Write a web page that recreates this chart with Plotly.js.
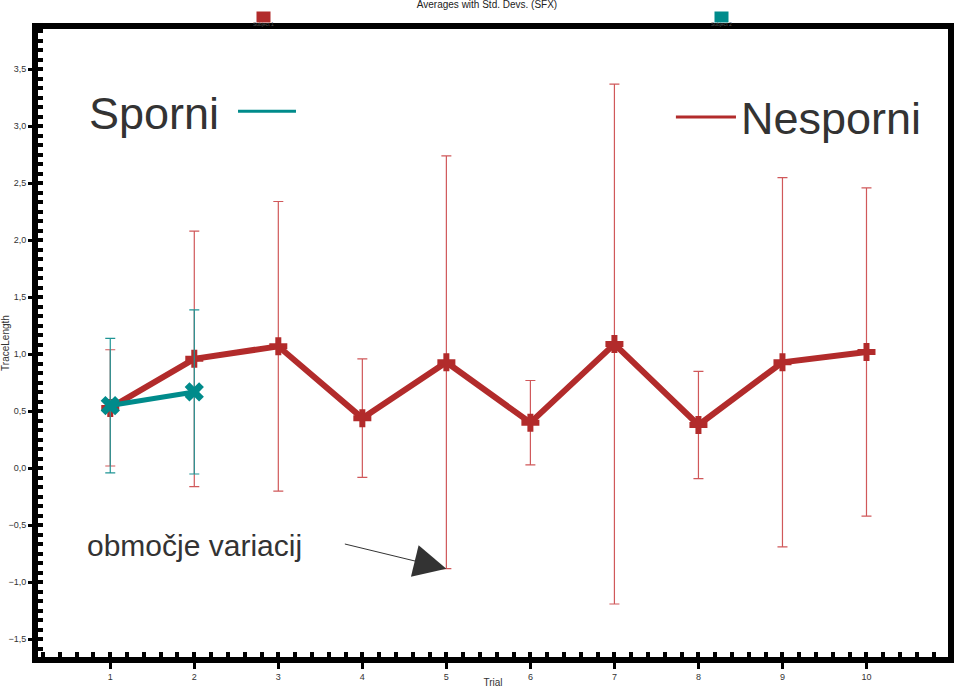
<!DOCTYPE html>
<html>
<head>
<meta charset="utf-8">
<script src="https://cdn.plot.ly/plotly-3.0.1.min.js"></script>
<style>html,body{margin:0;padding:0;background:#fff;}#chart{width:974px;height:688px;}</style>
</head>
<body>
<div id="chart"></div>
<script>
// ---- data ----
const trials = [1, 2, 3, 4, 5, 6, 7, 8, 9, 10];
const nespMean = [0.53, 0.96, 1.07, 0.44, 0.93, 0.40, 1.09, 0.38, 0.93, 1.02];
const nespSD   = [0.51, 1.12, 1.27, 0.52, 1.81, 0.37, 2.28, 0.47, 1.62, 1.44];
const sporTrials = [1, 2];
const sporMean = [0.55, 0.67];
const sporSD   = [0.59, 0.72];
const seriesNames = ['Nesporni', 'Sporni'];
const legendNames = ['Subject 1', 'Subject 2'];
const chartTitle = 'Averages with Std. Devs. (SFX)';
const arrowLabel = 'območje variacij';
const arrowTarget = {x: 5, y: nespMean[4] - nespSD[4]};

const RED = '#b22b2b';
const TEAL = '#008b8b';
const FONT = 'Liberation Sans, Arial, sans-serif';

const traces = [
  {
    x: trials, y: nespMean, name: seriesNames[0], type: 'scatter', mode: 'lines+markers',
    line: {color: RED, width: 6},
    marker: {symbol: 'cross', size: 15, color: RED},
    error_y: {type: 'data', array: nespSD, visible: true, color: '#d0585a', thickness: 1.2, width: 5}
  },
  {
    x: sporTrials, y: sporMean, name: seriesNames[1], type: 'scatter', mode: 'lines+markers',
    line: {color: TEAL, width: 5},
    marker: {symbol: 'x', size: 17, color: TEAL},
    error_y: {type: 'data', array: sporSD, visible: true, color: '#1f9595', thickness: 1.2, width: 5}
  }
];

const layout = {
  width: 974, height: 688,
  margin: {l: 38, r: 26, t: 29, b: 31},
  paper_bgcolor: '#fff', plot_bgcolor: '#fff',
  showlegend: false,
  separators: ',.',
  font: {family: FONT, color: '#333'},
  title: {text: chartTitle, x: 0.5, xanchor: 'center', yref: 'container', y: 0.993, yanchor: 'middle',
          font: {size: 10, color: '#222', family: FONT}},
  xaxis: {
    range: [0.14, 10.97], tick0: 0, dtick: 1, tickformat: 'd',
    showgrid: false, zeroline: false,
    showline: true, linewidth: 6, linecolor: '#000', mirror: true,
    ticks: 'outside', ticklen: 6, tickwidth: 3, tickcolor: '#000',
    tickfont: {size: 9, color: '#333'},
    minor: {ticks: 'inside', tick0: 0, dtick: 0.2, ticklen: 5, tickwidth: 4, tickcolor: '#000', showgrid: false},
    title: {text: 'Trial', font: {size: 10, color: '#333'}, standoff: 6}
  },
  yaxis: {
    range: [-1.655, 3.853], tick0: 0, dtick: 0.5, tickformat: '.1f',
    showgrid: false, zeroline: false,
    showline: true, linewidth: 6, linecolor: '#000', mirror: true,
    ticks: 'outside', ticklen: 4, tickwidth: 3, tickcolor: '#000',
    tickfont: {size: 9, color: '#333'},
    minor: {ticks: 'inside', tick0: 0, dtick: 0.5 / 6, ticklen: 5, tickwidth: 4, tickcolor: '#000', showgrid: false},
    title: {text: 'TraceLength', font: {size: 10, color: '#333'}, standoff: 4}
  },
  shapes: [
    {type: 'line', xref: 'paper', yref: 'paper', x0: 0.2198, x1: 0.2835, y0: 0.869, y1: 0.869,
     line: {color: TEAL, width: 3}},
    {type: 'line', xref: 'paper', yref: 'paper', x0: 0.701, x1: 0.767, y0: 0.860, y1: 0.860,
     line: {color: RED, width: 3}}
  ],
  annotations: [
    {text: seriesNames[1], xref: 'paper', yref: 'paper', x: 0.054, y: 0.866, xanchor: 'left', yanchor: 'middle',
     showarrow: false, font: {size: 45, color: '#333', family: FONT}},
    {text: seriesNames[0], xref: 'paper', yref: 'paper', x: 0.770, y: 0.857, xanchor: 'left', yanchor: 'middle',
     showarrow: false, font: {size: 45, color: '#333', family: FONT}},
    {text: arrowLabel, xref: 'paper', yref: 'paper', x: 0.052, y: 0.178, xanchor: 'left', yanchor: 'middle',
     showarrow: false, font: {size: 30, color: '#333', family: FONT}},
    {text: '', x: arrowTarget.x, y: arrowTarget.y, xref: 'x', yref: 'y', showarrow: true,
     ax: -103, ay: -25, arrowhead: 2, arrowsize: 6.5, arrowwidth: 1, arrowcolor: '#333', standoff: 0},
    // legend swatches at the top
    {text: ' ', xref: 'paper', yref: 'paper', x: (263 - 38) / 910, y: (657 - 17) / 628, xanchor: 'center', yanchor: 'middle',
     showarrow: false, width: 13, height: 10, bgcolor: RED, borderpad: 0, font: {size: 6}},
    {text: legendNames[0], xref: 'paper', yref: 'paper', x: (263 - 38) / 910, y: (657 - 24) / 628, xanchor: 'center', yanchor: 'middle',
     showarrow: false, font: {size: 5, color: '#555'}},
    {text: ' ', xref: 'paper', yref: 'paper', x: (721 - 38) / 910, y: (657 - 17) / 628, xanchor: 'center', yanchor: 'middle',
     showarrow: false, width: 13, height: 10, bgcolor: TEAL, borderpad: 0, font: {size: 6}},
    {text: legendNames[1], xref: 'paper', yref: 'paper', x: (721 - 38) / 910, y: (657 - 24) / 628, xanchor: 'center', yanchor: 'middle',
     showarrow: false, font: {size: 5, color: '#555'}}
  ]
};

Plotly.newPlot('chart', traces, layout, {displayModeBar: false, staticPlot: true});
</script>
</body>
</html>
